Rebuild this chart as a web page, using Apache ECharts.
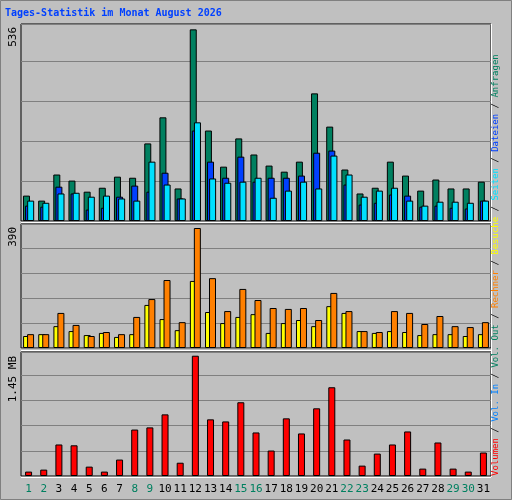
<!DOCTYPE html>
<html><head><meta charset="utf-8">
<script src="https://cdn.jsdelivr.net/npm/echarts@6/dist/echarts.min.js"></script>
<style>html,body{margin:0;padding:0;background:#c0c0c0}#c{width:512px;height:500px}</style>
</head><body><div id="c"></div>
<script>
const days = ['1','2','3','4','5','6','7','8','9','10','11','12','13','14','15','16','17','18','19','20','21','22','23','24','25','26','27','28','29','30','31'];
const weekend = ['1','2','8','9','15','16','22','23','29','30'];
const anfragen = [71,57,130,113,82,93,124,121,217,290,91,536,253,152,231,186,155,138,166,357,264,144,77,93,166,127,85,116,91,91,110];
const dateien = [43,40,96,77,32,37,68,99,82,135,63,253,166,121,180,110,121,121,127,191,197,102,46,51,74,71,40,43,37,35,57];
const seiten = [57,51,77,79,68,71,63,57,166,102,63,276,119,107,110,121,65,85,110,91,183,130,68,85,93,57,43,54,54,51,57];
const besuche = [39,45,71,55,42,49,36,45,140,94,58,218,117,81,101,110,49,81,91,71,136,114,55,49,55,52,42,45,45,39,45];
const rechner = [45,45,114,75,39,52,45,101,159,221,84,390,227,120,192,156,130,127,130,91,179,120,55,52,120,114,78,104,71,68,84];
const volumen = [0.053,0.077,0.38,0.37,0.113,0.053,0.198,0.56,0.586,0.743,0.16,1.45,0.683,0.658,0.889,0.525,0.307,0.695,0.513,0.816,1.07,0.44,0.125,0.27,0.38,0.537,0.089,0.404,0.089,0.053,0.283];
const maxLabels = ['536','390','1.45 MB'];

const font = 'DejaVu Sans Mono';
const grids = [
  {left:21,right:21,top:24,height:197},
  {left:21,right:21,top:224,height:124},
  {left:21,right:21,top:352,height:124}
].map(g=>Object.assign(g,{show:true,backgroundColor:'#c0c0c0',borderColor:'#000',borderWidth:1}));
function xa(i,show){return {type:'category',data:days,gridIndex:i,axisTick:{show:false},axisLine:{show:false},
  axisLabel:show?{interval:0,fontFamily:font,fontSize:11,margin:8,formatter:v=>weekend.includes(v)?'{w|'+v+'}':'{n|'+v+'}',
  rich:{w:{color:'#008060',fontFamily:font,fontSize:11},n:{color:'#000',fontFamily:font,fontSize:11}}}:{show:false}};}
function ya(i,max,interval){return {type:'value',gridIndex:i,min:0,max:max,interval:interval,axisLabel:{show:false},axisLine:{show:false},axisTick:{show:false},
  splitLine:{show:true,lineStyle:{color:'#808080',width:1}}};}
const bs = {borderColor:'#000',borderWidth:1};
function bar(name,data,color,xi,gap,w){return {name,type:'bar',data,xAxisIndex:xi,yAxisIndex:xi,barWidth:w||7,barGap:gap,
  itemStyle:Object.assign({color},bs),animation:false};}
const rich = {r:{fill:'#ff0000'},b:{fill:'#0080ff'},g:{fill:'#008060'},o:{fill:'#ff8000'},y:{fill:'#ffff00'},c:{fill:'#00e0ff'},d:{fill:'#0040ff'}};
function legendText(t,y){return {type:'text',x:496,y:y,rotation:Math.PI/2,
  style:{x:0,y:0,text:t,font:'9px '+font,fill:'#000',align:'left',verticalAlign:'middle',rich}};}
function ylab(t,y){return {type:'text',left:8,top:y,rotation:Math.PI/2,style:{text:t,font:'11px '+font,fill:'#000',align:'right',verticalAlign:'top'}};}
const chart = echarts.init(document.getElementById('c'));
chart.setOption({
  animation:false,
  backgroundColor:'#c0c0c0',
  grid:grids,
  xAxis:[xa(0,false),xa(1,false),xa(2,true)],
  yAxis:[ya(0,551,112),ya(1,403,81.25),ya(2,1.495,0.303)],
  series:[
    bar('Anfragen',anfragen,'#008060',0,'-70%'),
    bar('Dateien',dateien,'#0040ff',0,'-70%'),
    bar('Seiten',seiten,'#00e0ff',0,'-70%'),
    bar('Besuche',besuche,'#ffff00',1,'-43%'),
    bar('Rechner',rechner,'#ff8000',1,'-43%'),
    bar('Volumen',volumen,'#ff0000',2,'0%')
  ],
  graphic:[
    {type:'rect',shape:{x:0.5,y:0.5,width:511,height:499},style:{fill:'none',stroke:'#808080',lineWidth:1}},
    {type:'text',left:5,top:8,style:{text:'Tages-Statistik im Monat August 2026',font:'bold 10px '+font,fill:'#0040ff'}},
    {type:'line',shape:{x1:21,y1:222.5,x2:491,y2:222.5},style:{stroke:'#fff',lineWidth:1}},
    {type:'line',shape:{x1:21,y1:350.5,x2:491,y2:350.5},style:{stroke:'#fff',lineWidth:1}},
    {type:'line',shape:{x1:491.5,y1:24,x2:491.5,y2:477},style:{stroke:'#fff',lineWidth:1}},
    {type:'line',shape:{x1:21,y1:477.5,x2:491,y2:477.5},style:{stroke:'#fff',lineWidth:1}},
    ylab(maxLabels[0],27),ylab(maxLabels[1],227),ylab(maxLabels[2],356),
    legendText('{r|Volumen} / {b|Vol. In} / {g|Vol. Out} / {o|Rechner}',476),
    legendText(' / {y|Besuche} / {c|Seiten} / {d|Dateien} / {g|Anfragen}',271)
  ]
});
</script></body></html>
